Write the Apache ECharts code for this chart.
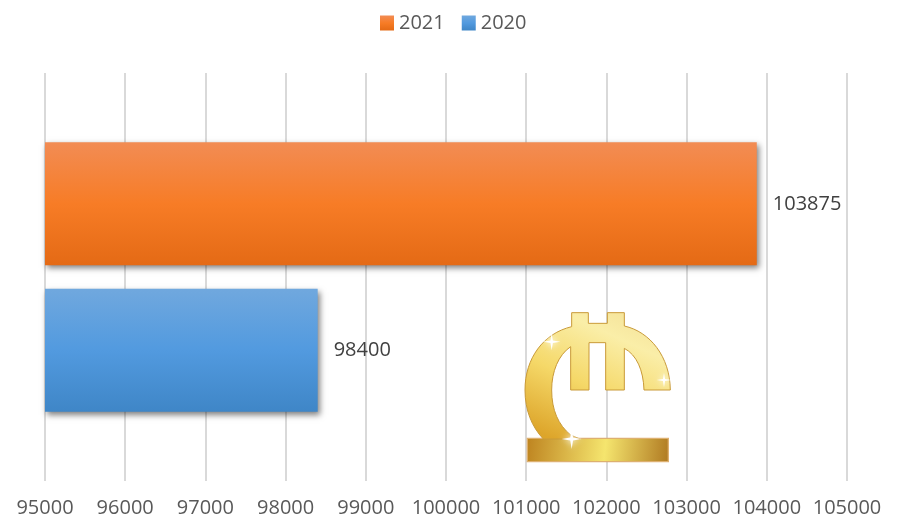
<!DOCTYPE html>
<html>
<head>
<meta charset="utf-8">
<style>html,body{margin:0;padding:0;background:#fff}#c{width:904px;height:522px}</style>
<script src="https://cdn.jsdelivr.net/npm/echarts@6/dist/echarts.min.js"></script>
</head>
<body>
<div id="c"></div>
<script>
var categories = ['GEL'];
var seriesNames = ['2021', '2020'];
var values2021 = [103875];
var values2020 = [98400];
var axisMin = 95000;
var axisMax = 105000;
var axisStep = 1000;

function grad(stops) {
  return new echarts.graphic.LinearGradient(0, 0, 0, 1,
    stops.map(function (s) { return { offset: s[0], color: s[1] }; }));
}
var orange = [[0, '#F28C54'], [0.5, '#F77C26'], [1, '#E46A15']];
var blue = [[0, '#70A8DE'], [0.5, '#529ADF'], [1, '#3F86C7']];

function barSeries(name, data, stops) {
  return {
    name: name, type: 'bar', data: data, barWidth: 123, barGap: '19%',
    itemStyle: {
      color: grad(stops), shadowColor: 'rgba(0,0,0,0.5)',
      shadowBlur: 6, shadowOffsetX: 2, shadowOffsetY: 3
    },
    label: {
      show: true, position: 'right', distance: 16,
      fontFamily: 'Open Sans', fontSize: 20, color: '#404040'
    }
  };
}

// Decorative lari sign, in zoomed-crop units
var lariBody = 'M130 447 C95 410 75 360 75 300 C75 205 130 130 215 110 L215 68 L265 68 L265 100 L322 100 L322 68 L373 68 L373 108 C450 125 510 200 511 300 L432 300 C430 240 410 195 373 175 L373 300 L317 300 L317 158 L267 158 L267 300 L212 300 L212 170 C175 195 155 245 155 300 C155 360 175 405 212 435 L240 447 Z';
var lariBase = 'M82 445 L505 445 L505 515 L82 515 Z';
var glints = [[155, 155, 26], [492, 270, 22], [215, 447, 30]];

function star(g) {
  var x = g[0], y = g[1], r = g[2], s = r * 0.14;
  return 'M' + (x - r) + ' ' + y + ' L' + (x - s) + ' ' + (y - s) + ' L' + x + ' ' + (y - r) + ' L' + (x + s) + ' ' + (y - s) +
    ' L' + (x + r) + ' ' + y + ' L' + (x + s) + ' ' + (y + s) + ' L' + x + ' ' + (y + r) + ' L' + (x - s) + ' ' + (y + s) + ' Z';
}

function renderLari() {
  var kids = [
    {
      type: 'path', shape: { pathData: lariBase },
      style: {
        fill: new echarts.graphic.LinearGradient(0, 0.2, 1, 0.8, [
          { offset: 0, color: '#BE8420' }, { offset: 0.55, color: '#F5E56E' }, { offset: 1, color: '#B07A22' }
        ]),
        stroke: '#DDB070', lineWidth: 4
      }
    },
    {
      type: 'path', shape: { pathData: lariBody },
      style: {
        fill: new echarts.graphic.LinearGradient(0.2, 1, 0.6, 0, [
          { offset: 0, color: '#DDA52A' }, { offset: 0.45, color: '#F5D868' }, { offset: 0.85, color: '#FAEEA8' }, { offset: 1, color: '#F6E69E' }
        ]),
        stroke: '#C99A38', lineWidth: 3
      }
    }
  ];
  glints.forEach(function (g) {
    kids.push({ type: 'path', shape: { pathData: star(g) }, style: { fill: '#FFFFFF', shadowBlur: 6, shadowColor: '#FFFFFF' } });
  });
  return { type: 'group', x: 500, y: 290, scaleX: 1 / 3, scaleY: 1 / 3, children: kids };
}

var chart = echarts.init(document.getElementById('c'), null, { renderer: 'canvas' });
chart.setOption({
  animation: false,
  backgroundColor: '#fff',
  legend: {
    data: seriesNames.map(function (n, i) {
      return { name: n, itemStyle: { color: grad(i === 0 ? orange : blue) } };
    }),
    top: 8, left: 375, itemWidth: 14, itemHeight: 15, itemGap: 17,
    icon: 'rect',
    textStyle: { fontFamily: 'Open Sans', fontSize: 20, color: '#595959', padding: [0, 0, 4, 0] }
  },
  grid: { left: 45, right: 57, top: 73, bottom: 41, containLabel: false },
  xAxis: {
    type: 'value', min: axisMin, max: axisMax, interval: axisStep,
    axisLine: { show: false }, axisTick: { show: false },
    splitLine: { show: true, lineStyle: { color: '#D9D9D9', width: 2 } },
    axisLabel: {
      margin: 17, fontFamily: 'Open Sans', fontSize: 20, color: '#595959',
      formatter: function (v) { return String(v); },
      hideOverlap: false, showMinLabel: true, showMaxLabel: true, alignMinLabel: 'center', alignMaxLabel: 'center'
    }
  },
  yAxis: {
    type: 'category', data: categories, inverse: true,
    axisLine: { show: false }, axisTick: { show: false }, axisLabel: { show: false }
  },
  series: [
    barSeries(seriesNames[0], values2021, orange),
    barSeries(seriesNames[1], values2020, blue),
    { type: 'custom', coordinateSystem: 'none', data: [[0]], silent: true, z: 10, renderItem: renderLari }
  ]
});
</script>
</body>
</html>
